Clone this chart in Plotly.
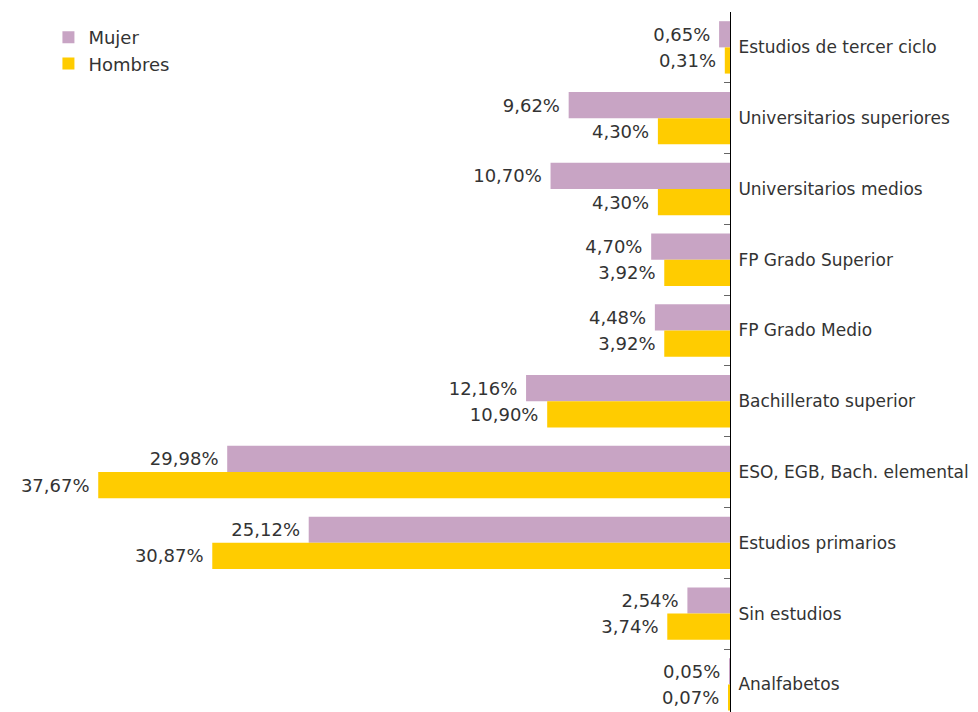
import plotly.graph_objects as go

categorias = ['Estudios de tercer ciclo', 'Universitarios superiores', 'Universitarios medios',
              'FP Grado Superior', 'FP Grado Medio', 'Bachillerato superior',
              'ESO, EGB, Bach. elemental', 'Estudios primarios', 'Sin estudios', 'Analfabetos']
mujer = [0.65, 9.62, 10.70, 4.70, 4.48, 12.16, 29.98, 25.12, 2.54, 0.05]
hombres = [0.31, 4.30, 4.30, 3.92, 3.92, 10.90, 37.67, 30.87, 3.74, 0.07]


def _fmt(v):
    '''Formato espanol con coma decimal (con un espacio de separacion).'''
    return f"{v:.2f}%".replace('.', ',') + '\u00a0'


FUENTE = 'DejaVu Sans'
TEXTO = '#333333'

fig = go.Figure()
fig.add_trace(go.Bar(y=categorias, x=mujer, name='Mujer', orientation='h',
                     marker=dict(color='#C8A4C4', line=dict(width=0)),
                     text=[_fmt(v) for v in mujer], textposition='outside',
                     textfont=dict(size=18, color=TEXTO, family=FUENTE), cliponaxis=False))
fig.add_trace(go.Bar(y=categorias, x=hombres, name='Hombres', orientation='h',
                     marker=dict(color='#FFCC00', line=dict(width=0)),
                     text=[_fmt(v) for v in hombres], textposition='outside',
                     textfont=dict(size=18, color=TEXTO, family=FUENTE), cliponaxis=False))

# la pagina deja 8px de margen en el body, se compensa aqui
fig.update_layout(
    width=978, height=712,
    margin=dict(l=0, r=256, t=4, b=8, autoexpand=False),
    paper_bgcolor='white', plot_bgcolor='white',
    barmode='group', bargap=0.26, bargroupgap=0,
    font=dict(family=FUENTE, size=17, color=TEXTO),
    showlegend=True,
    legend=dict(x=0.056, y=0.99, xanchor='left', yanchor='top', bgcolor='rgba(0,0,0,0)',
                font=dict(size=18, color=TEXTO), traceorder='normal'),
    xaxis=dict(range=[43.05, 0], visible=False, showgrid=False, zeroline=False, automargin=False),
    yaxis=dict(side='right', range=[9.39, -0.5], showline=True, linecolor='black', linewidth=1,
               ticks='inside', tickson='boundaries', ticklen=6, tickcolor='#666666',
               showgrid=False, zeroline=False, ticklabelstandoff=4, automargin=False,
               tickfont=dict(size=17, color=TEXTO)),
)

fig.write_html("out.html")
